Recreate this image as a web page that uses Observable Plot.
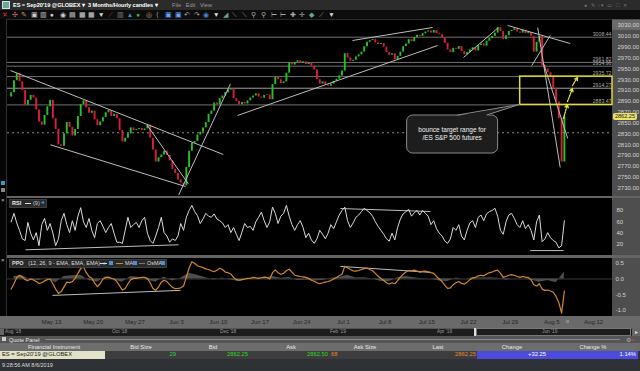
<!DOCTYPE html>
<html><head><meta charset="utf-8">
<script src="https://cdn.jsdelivr.net/npm/d3@7"></script>
<script src="https://cdn.jsdelivr.net/npm/@observablehq/plot@0.6"></script>
<style>
html,body{margin:0;padding:0;width:640px;height:371px;overflow:hidden;background:#000;font-family:"Liberation Sans",Arial,sans-serif;}
#root{position:relative;width:640px;height:371px;}
.a{position:absolute;white-space:nowrap;}
svg{display:block;}
</style></head><body>
<div id="root">
  <!-- title bar -->
  <div class="a" style="left:0;top:0;width:640px;height:10px;background:#2b2b2b;"></div>
  <div class="a" style="left:2px;top:1px;width:6px;height:6px;background:#6a9;border:1px solid #ddd;"></div>
  <div class="a" style="left:13px;top:1.5px;font-size:5.6px;font-weight:bold;color:#fff;letter-spacing:-0.05px;">ES = Sep20'19 @GLOBEX ▾</div>
  <div class="a" style="left:88px;top:1.5px;font-size:5.6px;font-weight:bold;color:#fff;letter-spacing:-0.05px;">3 Months/Hourly candles ▾</div>
  <div class="a" style="left:172px;top:1.5px;font-size:5.6px;color:#9a9a9a;">File&nbsp;&nbsp;&nbsp;Edit&nbsp;&nbsp;&nbsp;View</div>
  <div class="a" style="left:584px;top:1.5px;font-size:5.2px;color:#777;letter-spacing:1px;">● ✎ -▾ ▭ ⛶ ✕</div>
  <!-- toolbar -->
  <div class="a" style="left:0;top:10px;width:640px;height:9px;background:#0c0c0c;border-bottom:1px solid #2a2a2a;"></div>
  <div id="toolbar" class="a" style="left:2px;top:10px;height:9px;font-size:6.5px;line-height:9px;"></div>
  <!-- left gutter -->
  <div class="a" style="left:0;top:19px;width:6px;height:297px;background:#050505;border-right:1px solid #2e2e2e;"></div>
  <div class="a" style="left:1px;top:197px;font-size:6px;color:#ccc;">×</div>
  <div class="a" style="left:1px;top:257px;font-size:6px;color:#ccc;">×</div>
  <div class="a" style="left:1px;top:181px;width:4px;height:4px;background:#39c;"></div>
  <div class="a" style="left:1px;top:188px;width:4px;height:4px;background:#888;"></div>
  <!-- right axis column -->
  <div class="a" style="left:612px;top:19px;width:28px;height:297px;background:#4e4e4e;"></div>
  <div class="a" style="left:612px;top:20px;width:28px;height:10px;background:#6a6a6a;"></div>
  <!-- panels -->
  <div id="main" class="a" style="left:0;top:19px;"></div>
  <div class="a" style="left:7px;top:196px;width:633px;height:2px;background:#646464;"></div>
  <div id="rsi" class="a" style="left:0;top:198px;"></div>
  <div class="a" style="left:7px;top:255px;width:633px;height:3px;background:#646464;"></div>
  <div id="ppo" class="a" style="left:0;top:258px;"></div>
  <!-- panel legends -->
  <div class="a" style="left:9px;top:199px;width:36px;height:7px;background:#2a2a2a;border:1px solid #3c3c3c;"></div>
  <div class="a" style="left:12px;top:199.5px;font-size:5.5px;font-weight:bold;color:#eee;">RSI</div>
  <div class="a" style="left:25px;top:202.5px;width:6px;height:1px;background:#ddd;"></div>
  <div class="a" style="left:33px;top:199.5px;font-size:5.5px;color:#ccc;">(9)</div>
  <div class="a" style="left:41px;top:199px;font-size:5.5px;color:#39f;">◂</div>
  <div class="a" style="left:9px;top:259px;width:156px;height:7px;background:#2a2a2a;border:1px solid #3c3c3c;"></div>
  <div class="a" style="left:12px;top:259.5px;font-size:5.5px;color:#ddd;"><b>PPO</b>&nbsp;&nbsp;&nbsp;(12, 26, 9 - EMA, EMA, EMA) <span style="color:#39f">◂</span></div>
  <div class="a" style="left:100px;top:262.5px;width:7px;height:1px;background:#ddd;"></div>
  <div class="a" style="left:109px;top:260.5px;width:4px;height:4px;background:#4a8fd8;"></div>
  <div class="a" style="left:116px;top:262.5px;width:7px;height:1px;background:#d4872e;"></div>
  <div class="a" style="left:125px;top:259.5px;font-size:5.5px;color:#ddd;">MA</div>
  <div class="a" style="left:133px;top:260.5px;width:4px;height:4px;background:#4a8fd8;"></div>
  <div class="a" style="left:139px;top:262.5px;width:6px;height:1px;background:#777;"></div>
  <div class="a" style="left:147px;top:259.5px;font-size:5.5px;color:#ddd;">OsMA</div>
  <div class="a" style="left:161px;top:260.5px;width:4px;height:4px;background:#4a8fd8;"></div>
  <!-- x axis bar -->
  <div class="a" style="left:0;top:316px;width:640px;height:12px;background:#6a6a6a;"></div>
  <div id="xaxis" class="a" style="left:0;top:316px;"></div>
  <div class="a" style="left:566px;top:320px;width:3px;height:3px;background:#8a8a8a;"></div>
  <!-- navigator -->
  <div class="a" style="left:0;top:328px;width:640px;height:8px;background:#1c1c1c;border-top:1px solid #555;box-sizing:border-box;"></div>
  <div class="a" style="left:0;top:329px;width:4px;height:6px;background:#666;"></div>
  <div class="a" style="left:476px;top:328px;width:155px;height:8px;border:1px solid #777;box-sizing:border-box;"></div>
  <div class="a" style="left:474px;top:328px;width:2px;height:8px;background:#ddd;"></div>
  <div class="a" style="left:632px;top:328px;width:8px;height:8px;background:#666;font-size:6px;color:#ddd;line-height:8px;text-align:center;">▸</div>
  <div id="navlabels"></div>
  <!-- quote panel -->
  <div class="a" style="left:0;top:336px;width:640px;height:35px;background:#2e3236;"></div>
  <div class="a" style="left:0;top:336px;width:640px;height:7px;background:#555;"></div>
  <div class="a" style="left:2px;top:337px;width:4px;height:4px;background:#ccc;"></div>
  <div class="a" style="left:9px;top:336.5px;font-size:5.5px;color:#e6e6e6;">Quote Panel</div>
  <div class="a" style="left:45px;top:339px;width:575px;height:1px;background:#8a8a8a;"></div>
  <div class="a" style="left:626px;top:336px;font-size:6px;color:#aaa;">⚙<span style="color:#d33">×</span></div>
  <div class="a" style="left:0;top:343px;width:640px;height:7.5px;background:#6d6d6d;"></div>
  <div id="qphead"></div>
  <div class="a" style="left:0;top:350.5px;width:105px;height:8px;background:#e2e2c6;"></div>
  <div class="a" style="left:105px;top:350.5px;width:372px;height:8px;background:#3d3d3d;"></div>
  <div class="a" style="left:477px;top:350.5px;width:161px;height:8px;background:#4c4cdc;"></div>
  <div id="qprow"></div>
  <div class="a" style="left:2px;top:362px;font-size:5.5px;color:#dcdcdc;">9:28:56 AM 8/6/2019</div>
</div>
<script>
// ---------------- DATA ----------------
const priceTicks = [3030, 3010, 2990, 2970, 2950, 2930, 2910, 2890, 2870, 2850, 2830, 2810, 2790, 2770, 2750, 2730];
const levelPrices = [3008.44, 2961.82, 2954.96, 2935.72, 2914.27, 2883.47];
const dottedLevel = [2832];
const rsiTicks = [80, 60, 40, 20];
const ppoTicks = [0.5, 0.0, -0.5, -1.0];
const weekStarts = [5, 10, 15, 20, 25, 30, 35, 40, 45, 50, 55, 60, 65, 70];
const weekLabels = ["May 13", "May 20", "May 27", "Jun 3", "Jun 10", "Jun 17", "Jun 24", "Jul 1", "Jul 8", "Jul 15", "Jul 22", "Jul 29", "Aug 5", "Aug 12"];
const navLabels = ["Aug '18", "Oct '18", "Dec '18", "Feb '19", "Apr '19", "Jun '19"];
const firstOpen = 2898;
const lastPrice = 2862.25;
// hourly-ish candles, three per trading day (closes), trading day 0 = May 6
const closesByDay = [
  [2906, 2928, 2941], [2926, 2910, 2883], [2892, 2901, 2896], [2874, 2852, 2846], [2864, 2880, 2892],
  [2858, 2838, 2810], [2807, 2830, 2851], [2842, 2826, 2838], [2862, 2884, 2891], [2878, 2868, 2872],
  [2856, 2845, 2852], [2860, 2869, 2873], [2862, 2866, 2858], [2836, 2815, 2822], [2830, 2841, 2836],
  [2838, 2840, 2836], [2839, 2846, 2822], [2800, 2778, 2786], [2791, 2798, 2790], [2780, 2764, 2757],
  [2745, 2739, 2734], [2768, 2798, 2813], [2816, 2828, 2833], [2841, 2851, 2866], [2872, 2887, 2884],
  [2895, 2900, 2906], [2911, 2913, 2895], [2890, 2884, 2888], [2885, 2891, 2896], [2900, 2904, 2898],
  [2896, 2901, 2902], [2893, 2921, 2934], [2930, 2923, 2926], [2942, 2961, 2957], [2962, 2965, 2960],
  [2963, 2958, 2961], [2955, 2948, 2930], [2922, 2926, 2920], [2918, 2922, 2927], [2931, 2937, 2946],
  [2978, 2970, 2964], [2966, 2972, 2976], [2981, 2991, 2999], [3002, 3004, 2998], [2995, 2997, 2990],
  [2980, 2975, 2978], [2967, 2973, 2981], [2991, 2996, 3004], [3000, 3008, 3012], [3010, 3015, 3018],
  [3020, 3016, 3021], [3015, 3013, 3007], [2997, 2985, 2980], [2988, 2986, 2991], [2982, 2976, 2980],
  [2985, 2989, 2983], [2993, 2996, 2992], [3001, 3006, 3010], [3016, 3026, 3019], [3004, 3011, 3019],
  [3021, 3024, 3018], [3016, 3021, 3015], [3017, 3010, 2981], [2999, 3010, 2956], [2950, 2943, 2936],
  [2914, 2889, 2858], [2778, 2862]
];
const rsiByDay = [
  [60, 75, 58], [45, 30, 27], [59, 40, 28], [41, 18, 55], [66, 45, 57],
  [40, 18, 30], [62, 75, 55], [41, 62, 45], [70, 85, 60], [50, 66, 45],
  [32, 57, 62], [52, 41, 50], [57, 40, 24], [24, 22, 45], [68, 50, 55],
  [59, 50, 62], [68, 40, 27], [22, 35, 50], [68, 41, 35], [24, 30, 27],
  [35, 57, 45], [68, 80, 89], [78, 71, 57], [65, 75, 70], [68, 74, 65],
  [62, 58, 50], [55, 41, 50], [38, 27, 42], [57, 50, 52], [45, 60, 68],
  [77, 62, 50], [60, 86, 75], [57, 70, 75], [89, 70, 55], [45, 55, 62],
  [50, 32, 40], [28, 22, 30], [45, 38, 30], [40, 55, 48], [60, 72, 80],
  [86, 62, 50], [58, 68, 72], [78, 84, 80], [76, 70, 60], [52, 45, 38],
  [30, 26, 40], [28, 50, 65], [74, 78, 82], [70, 76, 80], [72, 80, 75],
  [70, 55, 62], [48, 40, 35], [26, 22, 30], [50, 45, 55], [35, 28, 45],
  [58, 62, 50], [68, 72, 62], [74, 78, 80], [84, 70, 45], [38, 60, 72],
  [75, 66, 55], [50, 62, 48], [55, 45, 28], [60, 72, 25], [30, 41, 32],
  [27, 24, 14], [18, 62]
];
const ppoByDay = [
  [-0.32, -0.15, 0.05], [0.12, 0.06, -0.02], [-0.05, 0.0, -0.03], [-0.08, -0.14, -0.12], [-0.06, -0.02, 0.0],
  [-0.15, -0.32, -0.46], [-0.40, -0.25, -0.10], [-0.12, -0.08, 0.02], [0.18, 0.33, 0.39], [0.20, 0.08, 0.02],
  [-0.12, -0.24, -0.15], [0.0, 0.05, 0.06], [0.02, 0.0, -0.08], [-0.22, -0.35, -0.30], [-0.15, -0.02, 0.02],
  [0.02, 0.04, 0.05], [0.05, 0.02, -0.12], [-0.30, -0.36, -0.25], [-0.10, -0.04, -0.08], [-0.18, -0.26, -0.31],
  [-0.30, -0.28, -0.22], [0.05, 0.35, 0.55], [0.50, 0.42, 0.39], [0.36, 0.32, 0.30], [0.26, 0.23, 0.28],
  [0.34, 0.30, 0.22], [0.20, 0.16, 0.05], [-0.02, -0.04, -0.02], [0.0, 0.02, 0.02], [0.05, 0.04, 0.02],
  [0.04, 0.06, 0.05], [0.0, 0.20, 0.29], [0.20, 0.15, 0.18], [0.27, 0.31, 0.22], [0.12, 0.10, 0.08],
  [0.07, 0.05, 0.02], [-0.04, -0.07, -0.12], [-0.15, -0.12, -0.10], [-0.08, -0.05, 0.0], [0.05, 0.10, 0.15],
  [0.40, 0.36, 0.30], [0.26, 0.25, 0.27], [0.30, 0.33, 0.35], [0.30, 0.26, 0.18], [0.08, 0.02, -0.05],
  [-0.12, -0.16, -0.12], [-0.15, -0.05, 0.06], [0.15, 0.22, 0.27], [0.26, 0.28, 0.25], [0.22, 0.24, 0.25],
  [0.23, 0.20, 0.18], [0.08, 0.0, -0.08], [-0.20, -0.30, -0.28], [-0.18, -0.12, -0.08], [-0.14, -0.16, -0.10],
  [-0.02, 0.03, 0.05], [0.10, 0.12, 0.10], [0.16, 0.20, 0.22], [0.26, 0.28, 0.18], [0.05, 0.08, 0.12],
  [0.14, 0.12, 0.08], [0.05, 0.08, 0.06], [0.05, -0.02, -0.18], [-0.22, -0.15, -0.32], [-0.36, -0.35, -0.38],
  [-0.42, -0.55, -0.75], [-1.08, -0.38]
];
const osmaByDay = [0.08, 0.10, -0.02, -0.05, 0.03, -0.12, 0.08, 0.10, 0.12, -0.05, -0.10, 0.06, -0.03, -0.10, 0.08,
  0.05, -0.04, -0.10, 0.06, -0.06, 0.02, 0.18, 0.12, 0.04, -0.03, 0.03, -0.03, -0.08, -0.02, 0.02,
  0.02, 0.08, 0.02, 0.05, -0.05, -0.03, -0.06, -0.05, 0.02, 0.05, 0.12, 0.03, 0.04, 0.0, -0.08,
  -0.08, 0.04, 0.08, 0.04, 0.01, 0.0, -0.06, -0.08, 0.03, -0.01, 0.04, 0.03, 0.04, 0.02, -0.04,
  0.01, 0.0, -0.03, -0.10, -0.05, -0.12, 0.22];
// trend lines [day1, value1, day2, value2]
const priceTrendlines = [
  [0.08, 2947.0, 25.6, 2791.9],
  [4.88, 2809.8, 21.07, 2732.8],
  [16.5, 2845.5, 21.4, 2737.8],
  [20.23, 2716.5, 26.46, 2922.4],
  [27.3, 2863.9, 51.3, 2993.1],
  [41.1, 3002.4, 50.7, 3026.4],
  [54.4, 2971.0, 58.6, 3026.4],
  [59.7, 3030.1, 67.2, 2996.8],
  [63.3, 3026.4, 66.0, 2767.9],
  [64.0, 2959.9, 66.9, 2821.5],
  [62.6, 2956.2, 64.8, 3011.6]
];
const rsiTrendlines = [
  [1.88, 10.6, 20.23, 19.5],
  [39.65, 83.5, 50.44, 78.2],
  [62.4, 9.3, 66.4, 9.3]
];
const ppoTrendlines = [
  [5.12, -0.52, 20.47, -0.36],
  [39.65, 0.40, 50.44, 0.21]
];
const bounceArrows = [
  [66.39, 2858.4, 66.87, 2884.2],
  [66.87, 2889.8, 67.47, 2913.8],
  [67.47, 2919.3, 68.07, 2934.1]
];
const targetBox = {start: 61.2, low: 2883.47, high: 2935.72};
const calloutAt = {d: 53.1, p: 2828.8};
const calloutLines = ["bounce target range for", "/ES S&P 500 futures"];
const quoteCols = ["Financial Instrument", "Bid Size", "Bid", "Ask", "Ask Size", "Last", "Change", "Change %"];
const quoteVals = {instrument: "ES = Sep20'19 @GLOBEX", bidSize: "29", bid: "2862.25", ask: "2862.50", askSize: "68", last: "2862.25", change: "+32.25", changePct: "1.14%"};

// ---------------- BUILD ----------------
const xDomain = [-0.276, 72.27];
function flatten(byDay) {
  const out = [];
  byDay.forEach((day, i) => day.forEach((v, j) => out.push({d: i + (j + 0.5) / 3, v})));
  return out;
}
const bars = [];
let prev = firstOpen;
closesByDay.forEach((day, i) => day.forEach((c, j) => {
  bars.push({d: i + (j + 0.5) / 3, open: prev, close: c});
  prev = c;
}));
const rsiPts = flatten(rsiByDay);
const ppoPts = flatten(ppoByDay);
const osmaPts = osmaByDay.map((v, i) => ({d: i + 0.5, v}));
const seg = (a) => a.map(t => ({x1: t[0], y1: t[1], x2: t[2], y2: t[3]}));

const FONT = "Liberation Sans, Arial, sans-serif";
const baseStyle = {background: "transparent", color: "#d0d0d0", fontFamily: FONT, fontSize: "6.5px", overflow: "visible"};
const common = {width: 640, marginLeft: 7, marginRight: 28, style: baseStyle};

const main = Plot.plot({
  ...common, height: 177, marginTop: 1, marginBottom: 1,
  x: {domain: xDomain, axis: null},
  y: {domain: [2716.2, 3039.3], axis: null},
  marks: [
    Plot.ruleY(levelPrices, {y: d => d, stroke: d => d === 2914.27 ? "#a0a0a0" : "#707070", strokeWidth: 1}),
    Plot.ruleY(dottedLevel, {y: d => d, stroke: "#8a8a8a", strokeDasharray: "2,3"}),
    Plot.text(levelPrices, {y: d => d, frameAnchor: "right", text: d => d.toFixed(2), textAnchor: "end", dx: -1, dy: -3.2, fill: "#a8a8a8", fontSize: 5.2}),
    Plot.ruleX(bars, {x: "d", y1: "open", y2: "close", stroke: d => d.close >= d.open ? "#26c326" : "#dc1e3c", strokeWidth: 1.9}),
    Plot.link(seg(priceTrendlines), {x1: "x1", y1: "y1", x2: "x2", y2: "y2", stroke: "#bdbdbd", strokeWidth: 1, clip: true}),
    Plot.rect([targetBox], {x1: "start", x2: () => xDomain[1], y1: "low", y2: "high", fill: "none", stroke: "#e2dc2c", strokeWidth: 1.5}),
    Plot.arrow(seg(bounceArrows), {x1: "x1", y1: "y1", x2: "x2", y2: "y2", stroke: "#e8e23a", strokeWidth: 1.3, strokeDasharray: "1.5,1.2", headLength: 4}),
    Plot.axisY({anchor: "right", ticks: priceTicks, tickFormat: d => d.toFixed(2), tickSize: 0, tickPadding: 5, fill: "#d2d2d2", fontSize: 6})
  ]
});
document.getElementById("main").appendChild(main);

const rsi = Plot.plot({
  ...common, height: 57, marginTop: 0, marginBottom: 0,
  x: {domain: xDomain, axis: null},
  y: {domain: [0.59, 101.18], axis: null},
  marks: [
    Plot.link(seg(rsiTrendlines), {x1: "x1", y1: "y1", x2: "x2", y2: "y2", stroke: "#bdbdbd", strokeWidth: 1}),
    Plot.line(rsiPts, {x: "d", y: "v", stroke: "#dadada", strokeWidth: 1}),
    Plot.axisY({anchor: "right", ticks: rsiTicks, tickSize: 0, tickPadding: 4, fill: "#d2d2d2", fontSize: 6})
  ]
});
document.getElementById("rsi").appendChild(rsi);

const ppo = Plot.plot({
  ...common, height: 58, marginTop: 0, marginBottom: 0,
  x: {domain: xDomain, axis: null},
  y: {domain: [-1.189, 0.650], axis: null},
  marks: [
    Plot.ruleY([0], {stroke: "#3a3a3a"}),
    Plot.areaY(osmaPts, {x: "d", y: "v", fill: "#4e4e4e"}),
    Plot.link(seg(ppoTrendlines), {x1: "x1", y1: "y1", x2: "x2", y2: "y2", stroke: "#bdbdbd", strokeWidth: 1}),
    Plot.line(ppoPts, {x: "d", y: "v", stroke: "#d4872e", strokeWidth: 1.2}),
    Plot.axisY({anchor: "right", ticks: ppoTicks, tickFormat: d => d.toFixed(1), tickSize: 0, tickPadding: 3, fill: "#d2d2d2", fontSize: 6})
  ]
});
document.getElementById("ppo").appendChild(ppo);

const xaxis = Plot.plot({
  ...common, height: 12, marginTop: 0, marginBottom: 0,
  x: {domain: xDomain, axis: null},
  marks: [
    Plot.text(weekStarts, {x: d => d, frameAnchor: "middle", text: (d, i) => weekLabels[i], fill: "#262626", fontSize: 6})
  ]
});
document.getElementById("xaxis").appendChild(xaxis);

// current price tag on the axis (positioned with the plot's own y scale)
const yPx = main.scale("y").apply(lastPrice) + 19;
const tag = document.createElement("div");
tag.className = "a";
tag.style.cssText = `left:613px;top:${yPx - 3}px;width:24px;height:7px;background:#e9e36a;border-radius:2px;font-size:5.6px;line-height:7px;color:#222;text-align:center;`;
tag.textContent = lastPrice.toFixed(2);
document.getElementById("root").appendChild(tag);

// callout anchored in data coordinates
const sx = main.scale("x"), sy = main.scale("y");
const cx = sx.apply(calloutAt.d), cy = sy.apply(calloutAt.p) + 19;
const bw = 91, bh = 38;
const bl = cx - bw / 2, bt = cy - bh / 2;
const tipX = sx.apply(targetBox.start), tipY = sy.apply(targetBox.low) + 19;
const ns = "http://www.w3.org/2000/svg";
const ov = document.createElementNS(ns, "svg");
ov.setAttribute("width", 640); ov.setAttribute("height", 371);
ov.setAttribute("style", "position:absolute;left:0;top:0;pointer-events:none;");
const box = document.createElementNS(ns, "rect");
box.setAttribute("x", bl); box.setAttribute("y", bt); box.setAttribute("width", bw); box.setAttribute("height", bh);
box.setAttribute("rx", 6); box.setAttribute("fill", "#1d1d1d"); box.setAttribute("stroke", "#8c8c8c");
ov.appendChild(box);
const ptr = document.createElementNS(ns, "polygon");
ptr.setAttribute("points", `${bl + 51},${bt + 1} ${bl + 80},${bt + 1} ${tipX},${tipY}`);
ptr.setAttribute("fill", "#1d1d1d");
ov.appendChild(ptr);
const ptrEdge = document.createElementNS(ns, "polyline");
ptrEdge.setAttribute("points", `${bl + 51},${bt} ${tipX},${tipY} ${bl + 80},${bt}`);
ptrEdge.setAttribute("fill", "none"); ptrEdge.setAttribute("stroke", "#8c8c8c");
ov.appendChild(ptrEdge);
calloutLines.forEach((s, i) => {
  const t = document.createElementNS(ns, "text");
  t.setAttribute("x", cx); t.setAttribute("y", bt + 17 + i * 7.5);
  t.setAttribute("text-anchor", "middle"); t.setAttribute("fill", "#f2f2f2");
  t.setAttribute("font-size", "6.5"); t.setAttribute("font-family", FONT);
  t.textContent = s;
  ov.appendChild(t);
});
document.getElementById("root").appendChild(ov);

// toolbar glyphs
const tools = [["✕","#c33"],["✣","#c66"],["✎","#c96"],["▣","#ccc"],["▥","#ccc"],["●","#ccc"],["◉","#ccc"],["▤","#ccc"],["▦","#ccc"],["▦","#ccc"],["▼","#ddd"],["⟋","#c33"],["▥","#888"],["▲","#48c"],["●","#4a4"],["◎","#c96"],["⟨","#aaa"],["▣","#6af"],["▣","#6af"],["↶","#aaa"],["↷","#aaa"],["◉","#48c"],["▼","#ddd"],["◢","#6a8"],["⟍","#aaa"],["⟍","#aaa"],["⚲","#aaa"],["⚲","#aaa"],["⊢","#aaa"],["⊢","#aaa"],["✚","#aaa"],["✛","#aaa"],["◆","#6a8"],["⟋","#aaa"],["▼","#ddd"]];
document.getElementById("toolbar").innerHTML = tools.map(t => `<span style="display:inline-block;width:9.6px;color:${t[1]}">${t[0]}</span>`).join("");

// navigator labels
const navPos = [5, 112, 220, 330, 437, 542];
document.getElementById("navlabels").innerHTML = navLabels.map((s, i) => `<div class="a" style="left:${navPos[i]}px;top:329px;font-size:4.8px;color:#9a9a9a;">${s}</div>`).join("");

// quote panel headers and row
const headCenters = [54, 141, 213, 291, 365, 438, 512, 593];
document.getElementById("qphead").innerHTML = quoteCols.map((s, i) => `<div class="a" style="left:${headCenters[i] - 40}px;width:80px;text-align:center;top:343.5px;font-size:5.8px;color:#e8e8e8;">${s}</div>`).join("");
const q = quoteVals;
document.getElementById("qprow").innerHTML = [
  `<div class="a" style="left:2px;top:351px;font-size:5.8px;color:#222;">${q.instrument}</div>`,
  `<div class="a" style="left:136px;width:40px;text-align:right;top:351px;font-size:5.8px;color:#2ed52e;">${q.bidSize}</div>`,
  `<div class="a" style="left:208px;width:40px;text-align:right;top:351px;font-size:5.8px;color:#2ed52e;">${q.bid}</div>`,
  `<div class="a" style="left:288px;width:40px;text-align:right;top:351px;font-size:5.8px;color:#2ed52e;">${q.ask}</div>`,
  `<div class="a" style="left:331px;top:351px;font-size:5.8px;color:#e38a2c;">${q.askSize}</div>`,
  `<div class="a" style="left:436px;width:40px;text-align:right;top:351px;font-size:5.8px;color:#e38a2c;">${q.last}</div>`,
  `<div class="a" style="left:507px;width:60px;text-align:center;top:351px;font-size:5.8px;color:#fff;">${q.change}</div>`,
  `<div class="a" style="left:596px;width:40px;text-align:right;top:351px;font-size:5.8px;color:#fff;">${q.changePct}</div>`
].join("");
</script>
</body></html>
